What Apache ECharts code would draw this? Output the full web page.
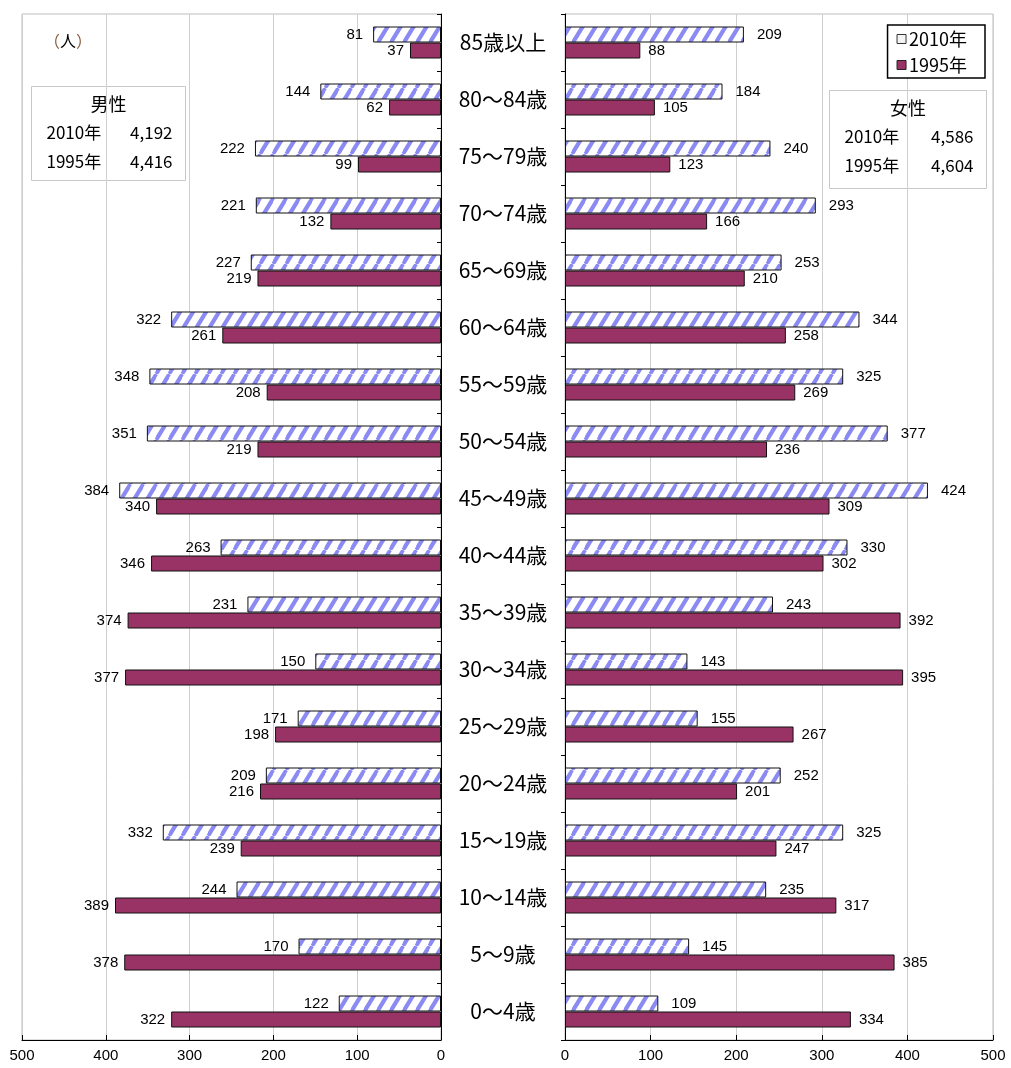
<!DOCTYPE html>
<html>
<head>
<meta charset="utf-8">
<script src="https://cdn.jsdelivr.net/npm/echarts@6/dist/echarts.min.js"></script>
<style>
  html, body { margin: 0; padding: 0; background: #fff; }
  #chart { width: 1011px; height: 1068px; }
</style>
</head>
<body>
<div id="chart"></div>
<script>
// Age groups, oldest at the top
const ages = ['85歳以上','80～84歳','75～79歳','70～74歳','65～69歳','60～64歳','55～59歳','50～54歳','45～49歳','40～44歳','35～39歳','30～34歳','25～29歳','20～24歳','15～19歳','10～14歳','5～9歳','0～4歳'];

// Population by age group (persons)
const male2010   = [81,144,222,221,227,322,348,351,384,263,231,150,171,209,332,244,170,122];
const male1995   = [37,62,99,132,219,261,208,219,340,346,374,377,198,216,239,389,378,322];
const female2010 = [209,184,240,293,253,344,325,377,424,330,243,143,155,252,325,235,145,109];
const female1995 = [88,105,123,166,210,258,269,236,309,302,392,395,267,201,247,317,385,334];

// Totals shown in the summary boxes
const years = ['2010年', '1995年'];
const maleTotals = ['4,192', '4,416'];
const femaleTotals = ['4,586', '4,604'];

const FONT = '"Noto Sans CJK JP", "Noto Sans", sans-serif';
const NUM_FONT = '"Liberation Sans", Arial, sans-serif';
const PLUM = '#993366';

// Diagonal hatch used for the 2010 bars
function makeHatch() {
  const w = 13.5, h = 22;
  const c = document.createElement('canvas');
  c.width = w; c.height = h;
  const g = c.getContext('2d');
  g.fillStyle = '#ffffff';
  g.fillRect(0, 0, 14, h);
  g.strokeStyle = '#8a8af2';
  g.lineWidth = 4.2;
  for (let k = -1; k <= 1; k++) {
    g.beginPath();
    g.moveTo(k * w, h);
    g.lineTo(k * w + w, 0);
    g.stroke();
  }
  return c;
}
const hatch = { image: makeHatch(), repeat: 'repeat' };

const chart = echarts.init(document.getElementById('chart'));

const valueAxisBase = {
  type: 'value', min: 0, max: 500, interval: 100,
  axisLine: { show: true, lineStyle: { color: '#000', width: 1 } },
  axisTick: { show: true, inside: true, length: 5, lineStyle: { color: '#000' } },
  axisLabel: { color: '#000', fontSize: 15, fontFamily: NUM_FONT, margin: 8 },
  splitLine: { show: true, lineStyle: { color: '#cfcfcf', width: 1 } }
};

const barLabel = (pos, dist) => ({
  show: true, position: pos, distance: dist,
  color: '#000', fontSize: 15, fontFamily: NUM_FONT
});

function summaryBox(x, y, w, h, title, totals) {
  return {
    type: 'group', left: x, top: y,
    children: [
      { type: 'rect', shape: { x: 0, y: 0, width: w, height: h },
        style: { fill: '#fff', stroke: '#c8c8c8', lineWidth: 1 } },
      { type: 'text', x: w / 2, y: 18,
        style: { text: title, fill: '#000', font: '18px ' + FONT, align: 'center', verticalAlign: 'middle' } },
      { type: 'text', x: 15, y: 46,
        style: { text: years[0], fill: '#000', font: '17px ' + FONT, verticalAlign: 'middle' } },
      { type: 'text', x: w - 13, y: 46,
        style: { text: totals[0], fill: '#000', font: '17px ' + FONT, align: 'right', verticalAlign: 'middle' } },
      { type: 'text', x: 15, y: 75,
        style: { text: years[1], fill: '#000', font: '17px ' + FONT, verticalAlign: 'middle' } },
      { type: 'text', x: w - 13, y: 75,
        style: { text: totals[1], fill: '#000', font: '17px ' + FONT, align: 'right', verticalAlign: 'middle' } }
    ]
  };
}

chart.setOption({
  backgroundColor: '#fff',
  animation: false,
  grid: [
    { left: 22, width: 419, top: 14, height: 1026, show: true, borderColor: '#bdbdbd', borderWidth: 1 },
    { left: 565, width: 428, top: 14, height: 1026, show: true, borderColor: '#bdbdbd', borderWidth: 1 }
  ],
  xAxis: [
    Object.assign({}, valueAxisBase, { gridIndex: 0, inverse: true }),
    Object.assign({}, valueAxisBase, { gridIndex: 1 })
  ],
  yAxis: [
    { type: 'category', gridIndex: 0, data: ages, inverse: true, position: 'right',
      axisLine: { show: true, lineStyle: { color: '#000', width: 1 } },
      axisTick: { show: true, inside: true, length: 4, lineStyle: { color: '#000' } },
      axisLabel: { show: true, margin: 62, align: 'center', color: '#000', fontSize: 21,
        fontFamily: FONT, padding: [4, 0, 0, 0] } },
    { type: 'category', gridIndex: 1, data: ages, inverse: true, position: 'left',
      axisLine: { show: true, lineStyle: { color: '#000', width: 1 } },
      axisTick: { show: true, length: 4, lineStyle: { color: '#000' } },
      axisLabel: { show: false } }
  ],
  legend: {
    orient: 'vertical', right: 26, top: 25,
    padding: [5, 18, 4, 9], itemGap: 8,
    itemWidth: 9, itemHeight: 9, icon: 'rect',
    borderColor: '#000', borderWidth: 1.5, backgroundColor: '#fff',
    textStyle: { color: '#000', fontSize: 18, fontFamily: FONT, padding: [0, 0, 0, -2] },
    data: [
      { name: years[0], itemStyle: { color: '#f4f4f4', borderColor: '#333', borderWidth: 1 } },
      { name: years[1], itemStyle: { color: PLUM, borderColor: '#222', borderWidth: 1 } }
    ]
  },
  series: [
    { name: years[0], type: 'bar', xAxisIndex: 0, yAxisIndex: 0, data: male2010,
      barWidth: 16, barGap: '0%',
      itemStyle: { color: hatch, borderColor: '#111', borderWidth: 1 },
      label: barLabel('left', 10) },
    { name: years[1], type: 'bar', xAxisIndex: 0, yAxisIndex: 0, data: male1995,
      barWidth: 16, barGap: '0%',
      itemStyle: { color: PLUM, borderColor: '#111', borderWidth: 1 },
      label: barLabel('left', 6) },
    { name: years[0], type: 'bar', xAxisIndex: 1, yAxisIndex: 1, data: female2010,
      barWidth: 16, barGap: '0%',
      itemStyle: { color: hatch, borderColor: '#111', borderWidth: 1 },
      label: barLabel('right', 13) },
    { name: years[1], type: 'bar', xAxisIndex: 1, yAxisIndex: 1, data: female1995,
      barWidth: 16, barGap: '0%',
      itemStyle: { color: PLUM, borderColor: '#111', borderWidth: 1 },
      label: barLabel('right', 8) }
  ],
  graphic: [
    { type: 'text', left: 44, top: 33,
      style: { text: '{p|（}人{p|）}', fill: '#000', font: '16px ' + FONT,
        rich: { p: { fill: '#8a5a3c', font: '16px ' + FONT } } } },
    summaryBox(31, 86, 154, 94, '男性', maleTotals),
    summaryBox(829, 90, 157, 98, '女性', femaleTotals)
  ]
});
</script>
</body>
</html>
